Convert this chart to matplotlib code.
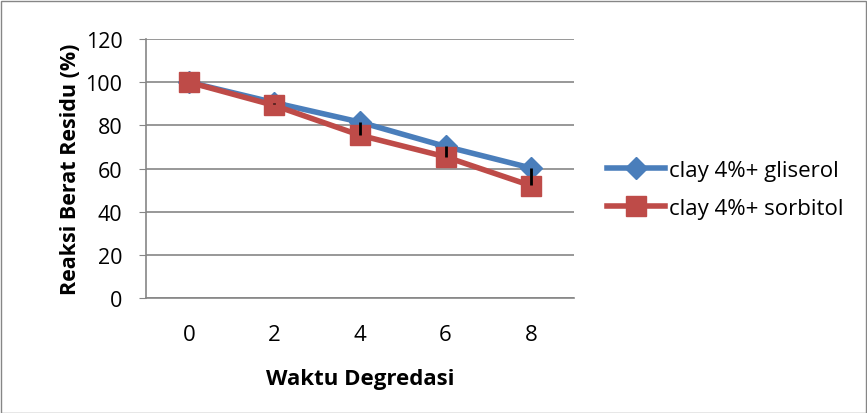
import numpy as np
import matplotlib
matplotlib.use("Agg")
import matplotlib.pyplot as plt
from matplotlib.patches import Rectangle

plt.rcParams['font.family'] = ['Open Sans', 'DejaVu Sans']

# data
waktu = ['0', '2', '4', '6', '8']
gliserol = [100, 90.5, 81.5, 70.2, 60.2]
sorbitol = [100, 89.2, 75.4, 65.4, 52.0]
err_bawah = [0, 0.6, 6.2, 5.0, 8.0]   # black bars below the gliserol points

fig = plt.figure(figsize=(8.67, 4.14), dpi=100)
ax = fig.add_axes([146/867, 1 - 299/414, 428/867, 259/414])

x = np.arange(len(waktu))
ax.plot(x, gliserol, color='#4a7ebb', lw=4, marker='D', ms=11,
        label='clay 4%+ gliserol', zorder=3)
ax.plot(x, sorbitol, color='#be4b48', lw=4, marker='s', ms=14,
        label='clay 4%+ sorbitol', zorder=4)
ax.errorbar(x, gliserol, yerr=[err_bawah, np.zeros(len(x))], fmt='none',
            ecolor='black', elinewidth=2, capsize=0, zorder=5)

ax.set_xlim(-0.5, len(waktu) - 0.5)
ax.set_ylim(0, 120)
ax.set_yticks(np.arange(0, 121, 20))
ax.set_xticks(x)
ax.set_xticklabels(waktu)
ax.grid(axis='y', color='#868686', lw=1.2)
ax.set_axisbelow(True)
for s in ['top', 'right']:
    ax.spines[s].set_visible(False)
for s in ['left', 'bottom']:
    ax.spines[s].set_color('#868686')
    ax.spines[s].set_linewidth(1.2)
ax.tick_params(axis='y', length=5, color='#868686', labelsize=15.5, pad=12)
ax.tick_params(axis='x', length=0, labelsize=16, pad=19)

ax.set_ylabel('Reaksi Berat Residu (%)', fontsize=15.5, fontweight='bold')
ax.yaxis.set_label_coords(-0.152, 0.5)
ax.set_xlabel('Waktu Degredasi', fontsize=16, fontweight='bold', labelpad=16)

ax.legend(loc='center left', bbox_to_anchor=(1.03, 0.42), frameon=False,
          fontsize=16, handlelength=2.6, handletextpad=0.2, labelspacing=0.75)

fig.patches.append(Rectangle((0.5/867, 0.5/414), 1 - 2/867, 1 - 2/414,
                             transform=fig.transFigure, fill=False,
                             edgecolor='#868686', lw=1))

fig.savefig('out.png', dpi=100)
